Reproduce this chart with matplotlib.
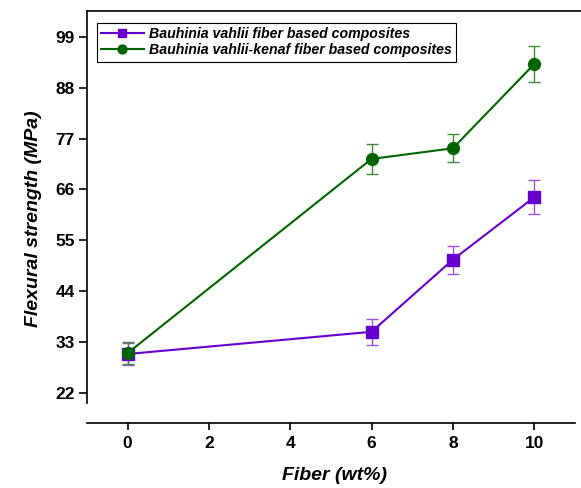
import matplotlib
matplotlib.use("Agg")
import matplotlib.pyplot as plt

# fiber content (wt%) and flexural strength (MPa)
fiber = [0, 6, 8, 10]
bv_strength = [30.4, 35.2, 50.8, 64.3]
bv_err = [2.3, 2.8, 3.0, 3.7]
bvk_strength = [30.6, 72.6, 74.9, 93.1]
bvk_err = [2.3, 3.2, 3.0, 3.9]

labels = ["Bauhinia vahlii fiber based composites",
          "Bauhinia vahlii-kenaf fiber based composites"]
xticks = [0, 2, 4, 6, 8, 10]
yticks = [22, 33, 44, 55, 66, 77, 88, 99]

plt.rcParams["font.family"] = ["Liberation Sans", "DejaVu Sans"]

W, H = 581, 488
fig = plt.figure(figsize=(W / 100, H / 100), dpi=100)
ax = fig.add_axes([87 / W, 1 - 403 / H, (W - 87) / W, (403 - 11) / H])

purple = "#6600cc"
green = "#006400"
styles = [(bv_strength, bv_err, purple, "#9a55e0", "s", labels[0]),
          (bvk_strength, bvk_err, green, "#3f8a3f", "o", labels[1])]
handles = []
for y, e, c, ec, m, lab in styles:
    cont = ax.errorbar(fiber, y, yerr=e, color=c, marker=m, markersize=8.5, lw=1.5,
                       ecolor=ec, elinewidth=1.0, capsize=4, capthick=1.0, label=lab)
    handles.append(cont[0])

ax.set_xlim(-1, -1 + (W - 87) / 40.65)
ax.set_ylim(19.8, 104.6)
ax.set_xticks(xticks)
ax.set_yticks(yticks)

ax.spines["right"].set_visible(False)
ax.spines["bottom"].set_position(("outward", 14.4))
ax.spines["bottom"].set_bounds(-1, 11)
for s in ["left", "bottom", "top"]:
    ax.spines[s].set_linewidth(1.2)

ax.tick_params(axis="y", direction="out", length=6, width=1.2, labelsize=12.5, pad=3)
ax.tick_params(axis="x", direction="out", length=5, width=1.2, labelsize=12.5, pad=4)
for t in ax.get_xticklabels() + ax.get_yticklabels():
    t.set_fontweight("bold")

ax.set_xlabel("Fiber (wt%)", fontsize=14, fontweight="bold", fontstyle="italic", labelpad=12)
ax.set_ylabel("Flexural strength (MPa)", fontsize=14, fontweight="bold", fontstyle="italic")
ax.yaxis.set_label_coords(-0.091, 0.47)

leg = ax.legend(handles, labels, loc="upper left", bbox_to_anchor=(97 / W, 1 - 23 / H),
                bbox_transform=fig.transFigure, borderaxespad=0, fancybox=False,
                framealpha=1, edgecolor="black", handlelength=3.0, handletextpad=0.35,
                borderpad=0.3, labelspacing=0.15, markerscale=0.75,
                prop={"weight": "bold", "style": "italic", "size": 10.2})
leg.get_frame().set_linewidth(0.8)

fig.savefig("out.png", dpi=100)
